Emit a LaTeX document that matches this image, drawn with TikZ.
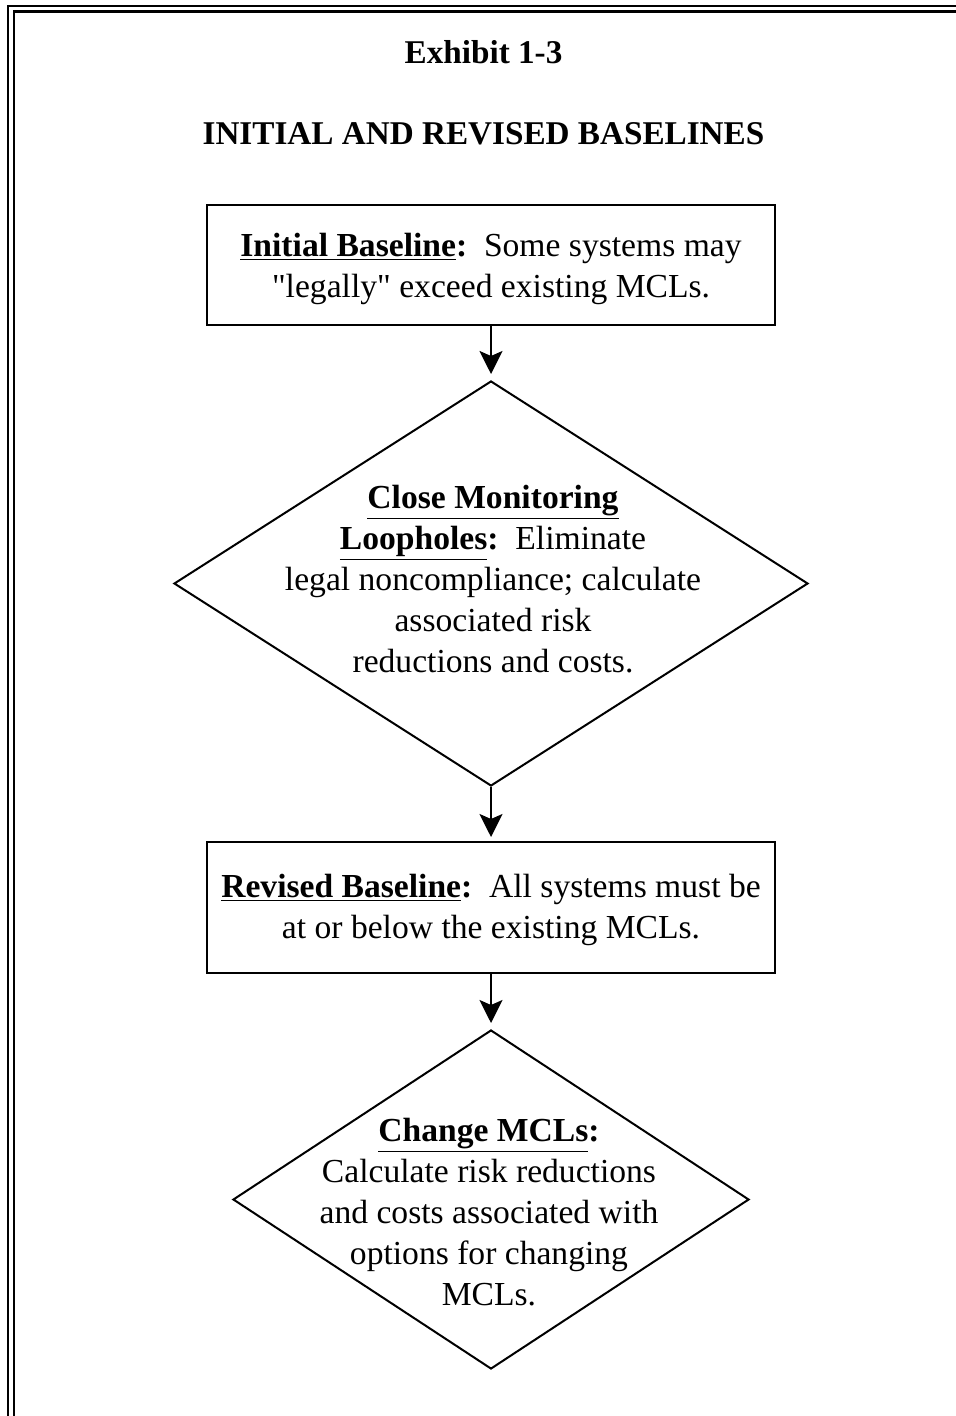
\documentclass[tikz,border=0pt]{standalone}
\usepackage{fontspec}
\setmainfont{Liberation Serif}[Ligatures=TeXOff]
\usetikzlibrary{shapes.geometric,arrows.meta}

\newcommand{\ul}[1]{\underline{#1}}

\tikzset{
  every picture/.style={x=0.5pt,y=-0.5pt},
  body/.style={font=\fontsize{16.8}{20.5}\selectfont, align=center, inner sep=0pt},
  heading/.style={font=\fontsize{16.6}{20.5}\selectfont\bfseries, inner sep=0pt},
  stepbox/.style={draw, line width=1pt, rectangle, inner sep=0pt},
  decision/.style={draw, line width=1pt, diamond, inner sep=0pt},
  flow/.style={line width=1pt, -{Stealth[length=11.5pt,width=11.5pt,inset=2.5pt]}},
  frameline/.style={line width=1.1pt}
}

\begin{document}
\begin{tikzpicture}
\useasboundingbox (0,0) rectangle (956,1416);

% double frame along the top and left edges
\draw[frameline] (956,6) -- (8,6) -- (8,1416);
\draw[frameline] (956,11.5) -- (13.8,11.5) -- (13.8,1416);

% headings
\node[heading] (exh) at (483.5,52) {Exhibit 1-3};
\node[heading] (ttl) at (483.5,134) {INITIAL AND REVISED BASELINES};

% flow chart shapes (sizes in pt, half of the drawing units)
\node[stepbox, minimum width=284pt, minimum height=60pt] (b1) at (491,265) {};
\node[decision, minimum width=317pt, minimum height=202.5pt] (d1) at (491,583.5) {};
\node[stepbox, minimum width=284pt, minimum height=65.5pt] (b2) at (491,907.5) {};
\node[decision, minimum width=258pt, minimum height=169.5pt] (d2) at (491,1199.5) {};

% texts inside the shapes
\node[body] (t1) at (491,269) {\textbf{\ul{Initial Baseline}:}\ \ Some systems may\\
  "legally" exceed existing MCLs.};
\node[body] (t2) at (493,579) {\textbf{\ul{Close Monitoring}}\\
  \textbf{\ul{Loopholes}:}\ \ Eliminate\\
  legal noncompliance; calculate\\
  associated risk\\
  reductions and costs.};
\node[body] (t3) at (491,910) {\textbf{\ul{Revised Baseline}:}\ \ All systems must be\\
  at or below the existing MCLs.};
\node[body] (t4) at (489,1212) {\textbf{\ul{Change MCLs}:}\\
  Calculate risk reductions\\
  and costs associated with\\
  options for changing\\
  MCLs.};

% connectors
\draw[flow, shorten >=3pt] (b1.south) -- (d1.north);
\draw[flow, shorten >=2pt] (d1.south) -- (b2.north);
\draw[flow, shorten >=3pt] (b2.south) -- (d2.north);
\end{tikzpicture}
\end{document}
